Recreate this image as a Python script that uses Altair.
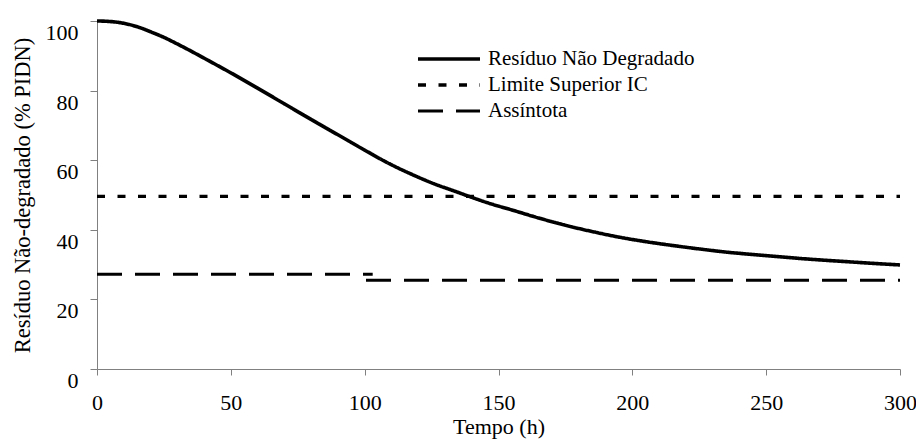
import altair as alt
import pandas as pd

# ---- data ----
series_names = ["Resíduo Não Degradado", "Limite Superior IC", "Assíntota"]

tempo_curva = [0, 4, 8, 12, 16, 21, 25, 30, 35, 41, 50, 60, 70, 80, 90, 100, 106, 110,
               118, 126, 134, 139, 147, 155, 165, 175, 185, 195, 205, 215, 225, 235,
               245, 255, 262, 270, 280, 290, 300]
residuo = [100.0, 99.9, 99.6, 99.0, 98.1, 96.6, 95.3, 93.4, 91.4, 88.9, 85.1, 80.7, 76.2,
           71.7, 67.3, 62.9, 60.3, 58.7, 55.8, 53.2, 51.0, 49.6, 47.5, 45.7, 43.4, 41.3,
           39.5, 37.9, 36.6, 35.5, 34.5, 33.6, 32.9, 32.25, 31.8, 31.35, 30.85, 30.35, 29.9]

tempo_limite = [0, 300]
limite_superior = [49.6, 49.6]

tempo_assint_1 = [0, 103]
assintota_1 = [27.2, 27.2]
tempo_assint_2 = [100.5, 300]
assintota_2 = [25.5, 25.5]

x_ticks = [0, 50, 100, 150, 200, 250, 300]
y_ticks = [0, 20, 40, 60, 80, 100]

rows = []
for t, v in zip(tempo_curva, residuo):
    rows.append({"t": t, "valor": v, "serie": series_names[0], "seg": "c"})
for t, v in zip(tempo_limite, limite_superior):
    rows.append({"t": t, "valor": v, "serie": series_names[1], "seg": "l"})
for t, v in zip(tempo_assint_1, assintota_1):
    rows.append({"t": t, "valor": v, "serie": series_names[2], "seg": "a1"})
for t, v in zip(tempo_assint_2, assintota_2):
    rows.append({"t": t, "valor": v, "serie": series_names[2], "seg": "a2"})
df = pd.DataFrame(rows)

FONT = "Liberation Serif"
AX = "#808080"

chart = alt.Chart(df).mark_line(strokeCap="butt", color="black",
                                interpolate="monotone").encode(
    x=alt.X("t:Q",
            scale=alt.Scale(domain=[0, 300], nice=False),
            axis=alt.Axis(values=x_ticks, title="Tempo (h)", grid=False,
                          labelFontSize=22, titleFontSize=22, labelFont=FONT, titleFont=FONT,
                          labelColor="black", titleColor="black", titleFontWeight="normal",
                          domainColor=AX, tickColor=AX, tickSize=6, labelPadding=17,
                          labelFlush=False, titleX=401.5, titleY=64,
                          titleBaseline="alphabetic")),
    y=alt.Y("valor:Q",
            scale=alt.Scale(domain=[0, 100], nice=False),
            axis=alt.Axis(values=y_ticks, title="Resíduo Não-degradado (% PIDN)", grid=False,
                          labelFontSize=22, titleFontSize=22.5, labelFont=FONT, titleFont=FONT,
                          labelColor="black", titleColor="black", titleFontWeight="normal",
                          domainColor=AX, tickColor=AX, tickSize=7, labelPadding=12,
                          labelOffset=11.5, labelFlush=False,
                          titleX=-75, titleY=174, titleAngle=-90,
                          titleBaseline="middle", titleAlign="center")),
    strokeDash=alt.StrokeDash("serie:N",
                              scale=alt.Scale(domain=series_names,
                                              range=[[1, 0], [8, 12.5], [25, 13]]),
                              legend=alt.Legend(title=None, orient="none", legendX=319,
                                                legendY=25, symbolType="stroke",
                                                symbolSize=3844, symbolStrokeWidth=3,
                                                symbolStrokeColor="black", clipHeight=26,
                                                labelFont=FONT, labelFontSize=21,
                                                labelColor="black", labelOffset=6,
                                                rowPadding=0, padding=0,
                                                labelLimit=400)),
    strokeWidth=alt.StrokeWidth("serie:N",
                                scale=alt.Scale(domain=series_names, range=[3.6, 3, 3]),
                                legend=None),
    detail="seg:N",
    order="t:Q",
).properties(
    width=803, height=348,
    padding={"left": 97, "top": 21, "right": 16, "bottom": 73},
    autosize="none",
    background="white",
).configure_view(stroke=None)

chart.save("out.html", embed_options={"renderer": "svg", "actions": False})
